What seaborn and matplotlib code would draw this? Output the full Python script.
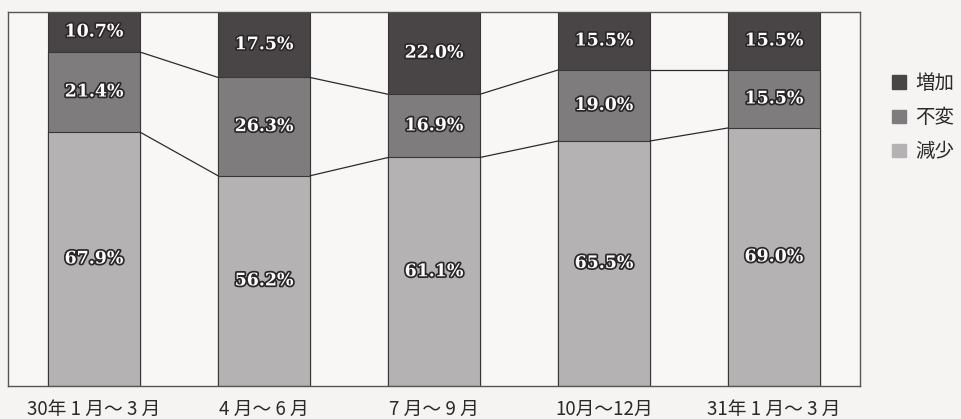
import numpy as np
import pandas as pd
import matplotlib
matplotlib.use("Agg")
import matplotlib.pyplot as plt
import matplotlib.patheffects as pe
from matplotlib.patches import Patch
import seaborn as sns

categories = ["30年 1 月～ 3 月", "4 月～ 6 月", "7 月～ 9 月", "10月～12月", "31年 1 月～ 3 月"]
decrease = [67.9, 56.2, 61.1, 65.5, 69.0]   # 減少
unchanged = [21.4, 26.3, 16.9, 19.0, 15.5]  # 不変
increase = [10.7, 17.5, 22.0, 15.5, 15.5]   # 増加
series_names = ["増加", "不変", "減少"]

col_inc = "#494446"
col_unc = "#7f7c7e"
col_dec = "#b4b2b3"
edge = "#3a3638"

sns.set_theme(style="white")
plt.rcParams["font.family"] = ["Noto Sans CJK JP", "DejaVu Sans"]

df = pd.DataFrame({"cat": categories,
                   "dec": decrease,
                   "unc": unchanged,
                   "inc": increase})
df["low2"] = df["dec"] + df["unc"]
df["top"] = df["low2"] + df["inc"]

fig = plt.figure(figsize=(9.61, 4.19), dpi=100)
fig.patch.set_facecolor("#f5f4f2")
ax = fig.add_axes([8 / 961, 33 / 419, 852 / 961, 374 / 419])
ax.set_facecolor("#f8f7f5")

w = 0.54
sns.barplot(data=df, x="cat", y="top", color=col_inc, width=w, ax=ax,
            saturation=1, edgecolor=edge, linewidth=0.8)
sns.barplot(data=df, x="cat", y="low2", color=col_unc, width=w, ax=ax,
            saturation=1, edgecolor=edge, linewidth=0.8)
sns.barplot(data=df, x="cat", y="dec", color=col_dec, width=w, ax=ax,
            saturation=1, edgecolor=edge, linewidth=0.8)

# connecting lines between bars
n = len(categories)
for level in [df["dec"].values, df["low2"].values]:
    for i in range(n - 1):
        ax.plot([i + w / 2, i + 1 - w / 2], [level[i], level[i + 1]],
                color="#2e2a2c", lw=0.9, zorder=3)

# value labels
effects = [pe.withStroke(linewidth=2.5, foreground="#2b2729")]
for i in range(n):
    segs = [(0, decrease[i]), (decrease[i], unchanged[i]),
            (decrease[i] + unchanged[i], increase[i])]
    for b, h in segs:
        ax.text(i, b + h / 2, f"{h:.1f}%", ha="center", va="center",
                fontsize=12.5, color="white", family="DejaVu Serif",
                fontweight="bold", path_effects=effects, zorder=5)

ax.set_xlim(-0.506, n - 1 + 0.506)
ax.set_ylim(0, 100)
ax.set_xlabel("")
ax.set_ylabel("")
ax.set_yticks([])
ax.tick_params(axis="x", length=0, labelsize=13.5, pad=9, colors="#2a2a2a")
for s in ax.spines.values():
    s.set_visible(True)
    s.set_color("#555555")
    s.set_linewidth(1.0)

handles = [Patch(facecolor=col_inc, edgecolor=col_inc),
           Patch(facecolor=col_unc, edgecolor=col_unc),
           Patch(facecolor=col_dec, edgecolor=col_dec)]
fig.legend(handles, series_names, loc="upper left",
           bbox_to_anchor=(892 / 961, 1 - 73 / 419), frameon=False,
           borderpad=0, borderaxespad=0,
           fontsize=14, handlelength=0.7, handleheight=0.7,
           labelspacing=0.68, handletextpad=0.5, labelcolor="#2a2a2a")

fig.savefig("out.png", dpi=100, facecolor=fig.get_facecolor())
